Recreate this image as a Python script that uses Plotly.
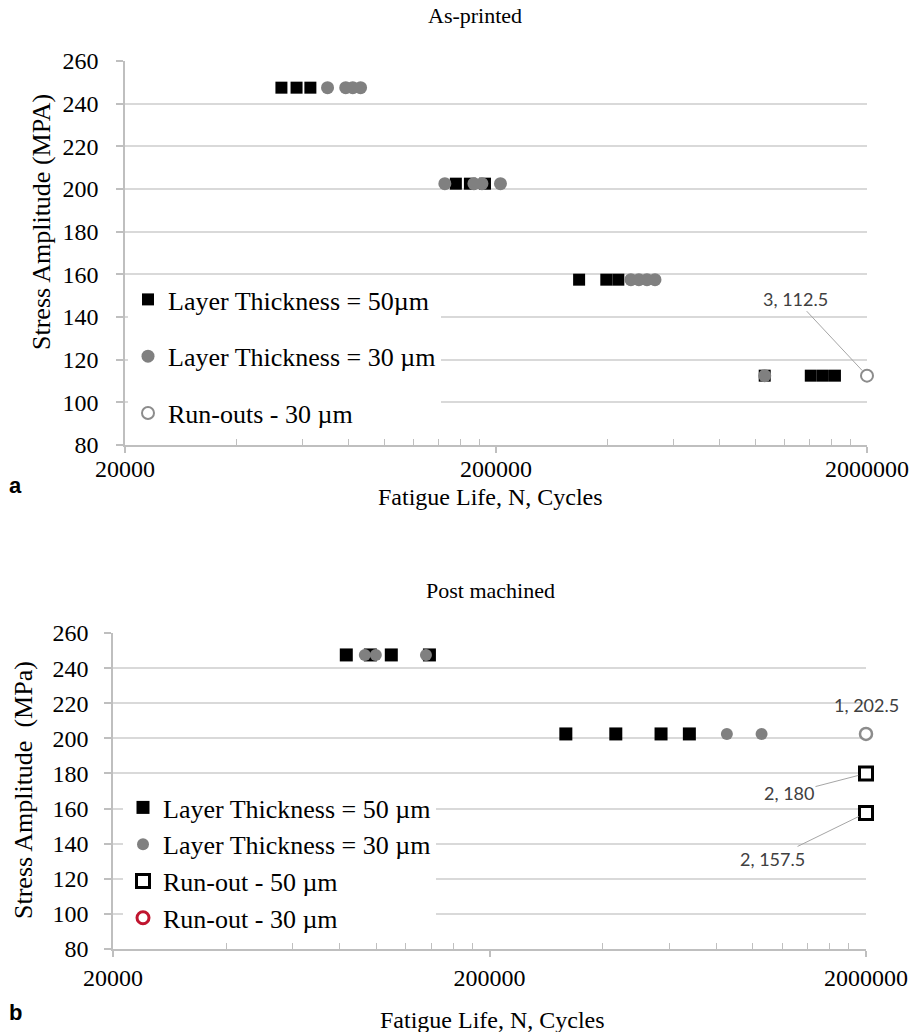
import math
import plotly.graph_objects as go

# ---------------- DATA ----------------
# (a) As-printed
ap_50_cycles = [52800, 58000, 63200, 155900, 170100, 186800, 335000, 396600, 427300,
                1060000, 1411000, 1521000, 1639000]
ap_50_stress = [247.5, 247.5, 247.5, 202.5, 202.5, 202.5, 157.5, 157.5, 157.5,
                112.5, 112.5, 112.5, 112.5]
ap_30_cycles = [70300, 78700, 82200, 86300, 145600, 174400, 183300, 205600,
                462000, 485500, 510400, 536500, 1060000]
ap_30_stress = [247.5, 247.5, 247.5, 247.5, 202.5, 202.5, 202.5, 202.5,
                157.5, 157.5, 157.5, 157.5, 112.5]
ap_runout_30_cycles = [2000000]
ap_runout_30_stress = [112.5]
ap_runout_30_labels = ["3, 112.5"]

# (b) Post machined
pm_50_cycles = [83300, 96500, 109700, 138500, 319000, 433000, 571000, 679000]
pm_50_stress = [247.5, 247.5, 247.5, 247.5, 202.5, 202.5, 202.5, 202.5]
pm_30_cycles = [93300, 99800, 135600, 854000, 1056000]
pm_30_stress = [247.5, 247.5, 247.5, 202.5, 202.5]
pm_runout_50_cycles = [2000000, 2000000]
pm_runout_50_stress = [180, 157.5]
pm_runout_50_labels = ["2, 180", "2, 157.5"]
pm_runout_30_cycles = [2000000]
pm_runout_30_stress = [202.5]
pm_runout_30_labels = ["1, 202.5"]

x_tick_vals = [20000, 200000, 2000000]
x_tick_text = ["20000", "200000", "2000000"]
x_minor_vals = [40000, 60000, 80000, 100000, 120000, 140000, 160000, 180000,
                400000, 600000, 800000, 1000000, 1200000, 1400000, 1600000, 1800000]
y_min, y_max, y_step = 80, 260, 20

# ---------------- STYLE ----------------
W, H = 915, 1032
SERIF = "Liberation Serif, Times New Roman, serif"
SANS = "Lato, Carlito, Calibri, sans-serif"
GRID = "#d9d9d9"
AXIS = "#bfbfbf"
GREY = "#808080"


def px_x(p):
    return p / W


def px_y(p):
    return 1 - p / H


fig = go.Figure()

# ---- top traces
fig.add_trace(go.Scatter(x=ap_50_cycles, y=ap_50_stress, mode="markers",
                         name="Layer Thickness = 50µm", legendgroup="a1", legend="legend",
                         marker=dict(symbol="square", size=12, color="black"),
                         xaxis="x", yaxis="y", cliponaxis=False))
fig.add_trace(go.Scatter(x=ap_30_cycles, y=ap_30_stress, mode="markers",
                         name="Layer Thickness = 30 µm", legendgroup="a2", legend="legend",
                         marker=dict(symbol="circle", size=13, color=GREY),
                         xaxis="x", yaxis="y", cliponaxis=False))
fig.add_trace(go.Scatter(x=ap_runout_30_cycles, y=ap_runout_30_stress, mode="markers",
                         name="Run-outs - 30 µm", legendgroup="a3", legend="legend",
                         marker=dict(symbol="circle", size=12, color="white",
                                     line=dict(color="#8c8c8c", width=2)),
                         xaxis="x", yaxis="y", cliponaxis=False))

# ---- bottom traces
fig.add_trace(go.Scatter(x=pm_50_cycles, y=pm_50_stress, mode="markers",
                         name="Layer Thickness = 50 µm", legend="legend2",
                         marker=dict(symbol="square", size=13, color="black"),
                         xaxis="x2", yaxis="y2", cliponaxis=False))
fig.add_trace(go.Scatter(x=pm_30_cycles, y=pm_30_stress, mode="markers",
                         name="Layer Thickness = 30 µm", legend="legend2",
                         marker=dict(symbol="circle", size=12, color=GREY),
                         xaxis="x2", yaxis="y2", cliponaxis=False))
fig.add_trace(go.Scatter(x=pm_runout_50_cycles, y=pm_runout_50_stress, mode="markers",
                         name="Run-out - 50 µm", legend="legend2",
                         marker=dict(symbol="square", size=13, color="white",
                                     line=dict(color="black", width=3)),
                         xaxis="x2", yaxis="y2", cliponaxis=False))
fig.add_trace(go.Scatter(x=pm_runout_30_cycles, y=pm_runout_30_stress, mode="markers",
                         name="Run-out - 30 µm", legend="legend2", showlegend=False,
                         marker=dict(symbol="circle", size=12, color="white",
                                     line=dict(color="#8c8c8c", width=2.5)),
                         xaxis="x2", yaxis="y2", cliponaxis=False))
# legend entry for the 30 µm run-out (red ring in the original legend)
fig.add_trace(go.Scatter(x=[None], y=[None], mode="markers",
                         name="Run-out - 30 µm", legend="legend2",
                         marker=dict(symbol="circle", size=12, color="white",
                                     line=dict(color="#c0152f", width=3)),
                         xaxis="x2", yaxis="y2"))

xr = [math.log10(x_tick_vals[0]), math.log10(x_tick_vals[-1])]


def xaxis_cfg(domain, anchor, standoff):
    return dict(type="log", range=xr, domain=domain, anchor=anchor, automargin=False,
                tickmode="array", tickvals=x_tick_vals, ticktext=x_tick_text,
                showgrid=False, zeroline=False, showline=True, linecolor=AXIS, linewidth=1.5,
                ticks="outside", ticklen=6, tickcolor=AXIS, tickwidth=1.5,
                tickfont=dict(family=SERIF, size=24, color="black"),
                ticklabelstandoff=standoff,
                minor=dict(tickmode="array", tickvals=x_minor_vals, ticks="inside",
                           ticklen=6, tickcolor=AXIS, tickwidth=1, showgrid=False))


def yaxis_cfg(domain, anchor, standoff):
    return dict(range=[y_min, y_max], domain=domain, anchor=anchor, automargin=False,
                tickmode="linear", tick0=y_min, dtick=y_step,
                showgrid=True, gridcolor=GRID, gridwidth=1.5, zeroline=False,
                showline=True, linecolor=AXIS, linewidth=1.5,
                ticks="outside", ticklen=7, tickcolor=AXIS, tickwidth=1.5,
                tickfont=dict(family=SERIF, size=24, color="black"),
                ticklabelstandoff=standoff)


fig.update_layout(
    width=W, height=H,
    margin=dict(l=0, r=0, t=0, b=0, autoexpand=False),
    paper_bgcolor="white", plot_bgcolor="white",
    xaxis=xaxis_cfg([px_x(125), px_x(867)], "y", -5),
    yaxis=yaxis_cfg([px_y(445), px_y(61)], "x", 13),
    xaxis2=xaxis_cfg([px_x(113), px_x(866)], "y2", 0),
    yaxis2=yaxis_cfg([px_y(949), px_y(633)], "x2", 11),
    legend=dict(x=px_x(128), y=px_y(276), xanchor="left", yanchor="top",
                bgcolor="white", borderwidth=0, tracegroupgap=20,
                font=dict(family=SERIF, size=26, color="black")),
    legend2=dict(x=px_x(123), y=px_y(784), xanchor="left", yanchor="top",
                 bgcolor="white", borderwidth=0, tracegroupgap=0,
                 font=dict(family=SERIF, size=26, color="black")),
)


def pa(text, x, y, size, family=SERIF, angle=0):
    return dict(text=text, x=px_x(x), y=px_y(y), xref="paper", yref="paper",
                xanchor="center", yanchor="middle", showarrow=False, textangle=angle,
                font=dict(family=family, size=size, color="black"))


BOLD_SANS = "Liberation Sans, Arial, sans-serif"
annotations = [
    pa("As-printed", 475, 15, 22),
    pa("Fatigue Life, N, Cycles", 490, 497, 24),
    pa("Stress Amplitude (MPA)", 42, 222, 26, angle=-90),
    pa("<b>a</b>", 15, 486, 22, family=BOLD_SANS),
    pa("Post machined", 490, 590, 22),
    pa("Fatigue Life, N, Cycles", 492, 1020, 24),
    pa("Stress Amplitude  (MPa)", 23, 790, 26, angle=-90),
    pa("<b>b</b>", 15, 1012, 22, family=BOLD_SANS),
]

lab_font = dict(family=SANS, size=18, color="#404040")
# data labels with leader lines
annotations.append(dict(text=ap_runout_30_labels[0], x=math.log10(ap_runout_30_cycles[0]),
                        y=ap_runout_30_stress[0], xref="x", yref="y",
                        showarrow=True, arrowhead=0, arrowwidth=1, arrowcolor="#a6a6a6",
                        ax=-72, ay=-77, standoff=7, font=lab_font))
offsets_50 = [(-77, 20), (-94, 46)]
for cyc, st, lab, (ax, ay) in zip(pm_runout_50_cycles, pm_runout_50_stress, pm_runout_50_labels, offsets_50):
    annotations.append(dict(text=lab, x=math.log10(cyc), y=st, xref="x2", yref="y2",
                            showarrow=True, arrowhead=0, arrowwidth=1, arrowcolor="#a6a6a6",
                            ax=ax, ay=ay, standoff=8, font=lab_font))
annotations.append(dict(text=pm_runout_30_labels[0], x=math.log10(pm_runout_30_cycles[0]),
                        y=pm_runout_30_stress[0], xref="x2", yref="y2",
                        showarrow=False, yshift=29, font=lab_font))

fig.update_layout(annotations=annotations)

fig.write_html("out.html", config={"displayModeBar": False},
               post_script="document.body.style.margin='0';document.body.style.overflow='hidden';")
